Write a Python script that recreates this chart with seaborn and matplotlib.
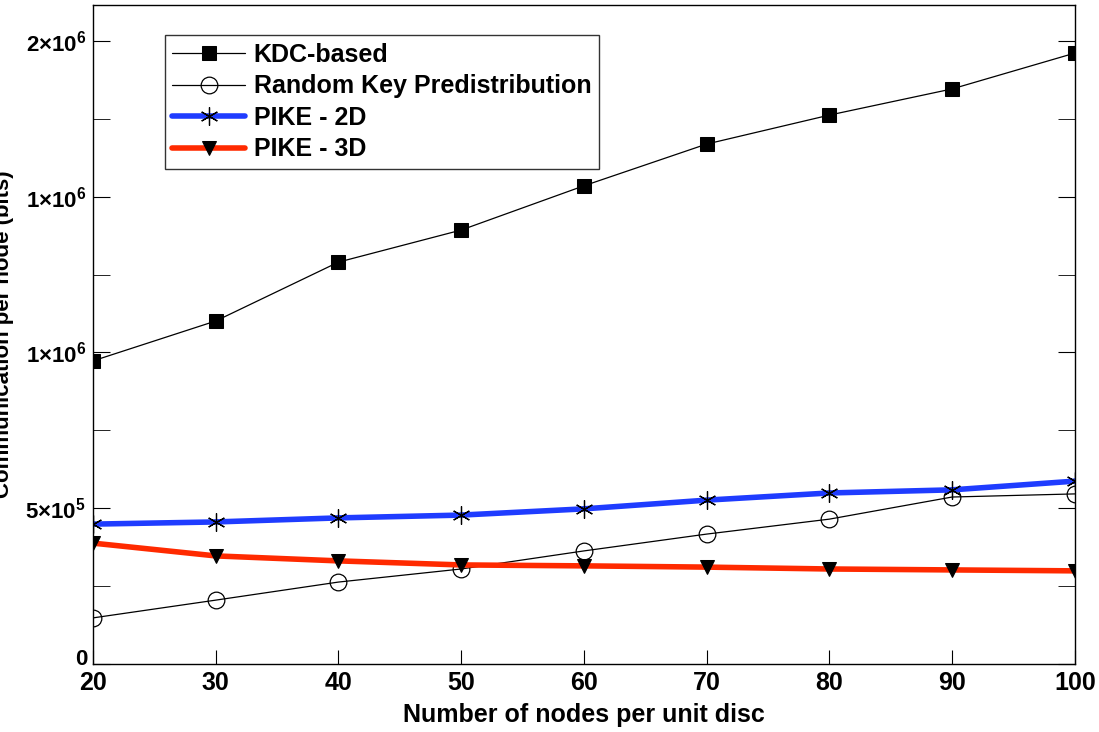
import numpy as np
import pandas as pd
import matplotlib
matplotlib.use('Agg')
import matplotlib.pyplot as plt
from matplotlib.ticker import FuncFormatter, MultipleLocator
import seaborn as sns

# Data
nodes = [20, 30, 40, 50, 60, 70, 80, 90, 100]
kdc_based = [973000, 1101000, 1290000, 1393000, 1535000, 1669000, 1762000, 1846000, 1961000]
random_key = [148000, 205000, 263000, 305000, 363000, 417000, 465000, 536000, 546000]
pike_2d = [449000, 456000, 469000, 478000, 498000, 526000, 549000, 559000, 587000]
pike_3d = [388000, 347000, 331000, 318000, 315000, 311000, 305000, 302000, 299000]
series_names = ['KDC-based', 'Random Key Predistribution', 'PIKE - 2D', 'PIKE - 3D']

sns.set_style('white')
plt.rcParams['font.family'] = ['Liberation Sans', 'DejaVu Sans']
plt.rcParams['mathtext.fontset'] = 'custom'
plt.rcParams['mathtext.rm'] = 'Liberation Sans:bold'
plt.rcParams['mathtext.bf'] = 'Liberation Sans:bold'
plt.rcParams['text.color'] = 'black'
plt.rcParams['axes.labelcolor'] = 'black'

fig = plt.figure(figsize=(10.99, 7.32), dpi=100)
ax = fig.add_axes([0.0846, 0.0929, 0.8934, 0.9001])

# KDC-based
sns.lineplot(x=nodes, y=kdc_based, ax=ax, color='black', lw=0.9, marker='s',
             markersize=10, markerfacecolor='black', markeredgecolor='black',
             label=series_names[0])
# Random key predistribution
sns.lineplot(x=nodes, y=random_key, ax=ax, color='black', lw=0.9, marker='o',
             markersize=12, markerfacecolor='none', markeredgecolor='black',
             markeredgewidth=0.9, label=series_names[1])
# PIKE - 2D
sns.lineplot(x=nodes, y=pike_2d, ax=ax, color='#1f3cff', lw=4, marker=(6, 2, 0),
             markersize=13, markeredgecolor='black', markeredgewidth=0.9,
             label=series_names[2])
# PIKE - 3D
sns.lineplot(x=nodes, y=pike_3d, ax=ax, color='#ff2a00', lw=4, marker='v',
             markersize=10, markerfacecolor='black', markeredgecolor='black',
             label=series_names[3])

ax.set_xlim(20, 100)
ax.set_ylim(0, 2115000)
ax.xaxis.set_major_locator(MultipleLocator(10))
ax.yaxis.set_major_locator(MultipleLocator(500000))
ax.yaxis.set_minor_locator(MultipleLocator(250000))


def sci_fmt(v, pos):
    # the original program truncates the mantissa, so 1.5e6 shows as 1x10^6
    # the zero label is placed separately, a bit higher up
    if v <= 0:
        return ''
    exp = int(np.floor(np.log10(v)))
    mant = int(np.floor(v / 10 ** exp + 1e-9))
    return r'$\mathbf{%d{\times}10^{%d}}$' % (mant, exp)


ax.yaxis.set_major_formatter(FuncFormatter(sci_fmt))
ax.tick_params(axis='both', which='both', direction='in', left=True, right=True,
               bottom=True, top=False, colors='black')
ax.tick_params(axis='y', which='both', length=12, labelsize=16, pad=5)
ax.tick_params(axis='x', which='major', length=10, labelsize=18, pad=5)
for lbl in ax.get_xticklabels():
    lbl.set_fontweight('bold')

ax.annotate('0', xy=(0, 0), xycoords=('axes fraction', 'data'), xytext=(-4, 3),
            textcoords='offset points', ha='right', va='center',
            fontsize=16, fontweight='bold')

for s in ax.spines.values():
    s.set_color('black')
    s.set_linewidth(1)

ax.set_xlabel('Number of nodes per unit disc', fontsize=18, fontweight='bold', labelpad=6)
ax.set_ylabel('Communication per node (bits)', fontsize=16, fontweight='bold')
ax.yaxis.set_label_coords(-0.08, 0.5)

leg = ax.legend(loc='upper left', bbox_to_anchor=(0.0733, 0.954), fontsize=18,
                frameon=True, fancybox=False, borderpad=0.3, labelspacing=0.3,
                handlelength=2.9, handletextpad=0.35, borderaxespad=0)
leg.get_frame().set_edgecolor('black')
leg.get_frame().set_linewidth(1)
for t in leg.get_texts():
    t.set_fontweight('bold')

fig.savefig('out.png', dpi=100)
